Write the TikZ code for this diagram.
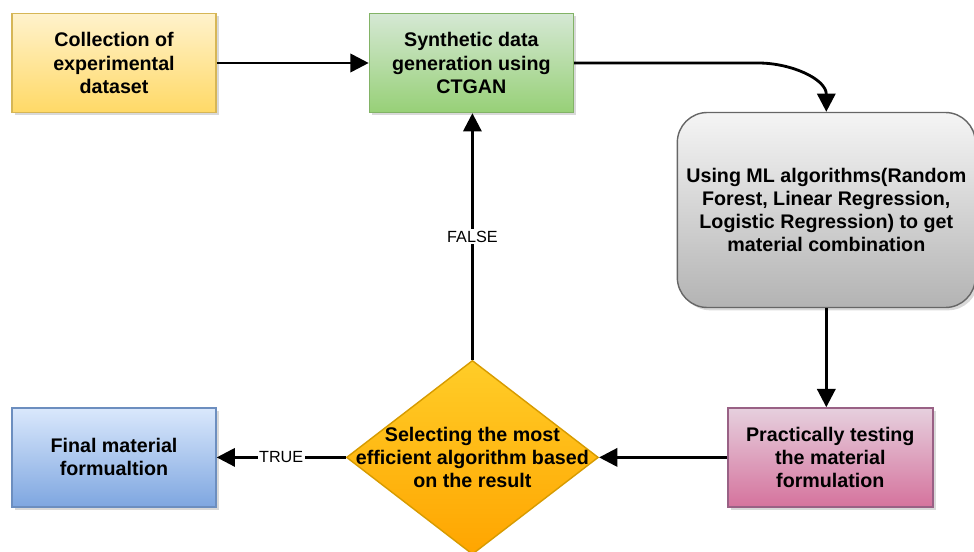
\documentclass[tikz,border=0pt]{standalone}
\usepackage{fontspec}
\setmainfont{Liberation Sans}
\usetikzlibrary{positioning,shapes.geometric,arrows.meta,shadows}
\definecolor{yelTop}{HTML}{FFF2CC}\definecolor{yelBot}{HTML}{FFD966}\definecolor{yelLine}{HTML}{D6B656}
\definecolor{grnTop}{HTML}{D5E8D4}\definecolor{grnBot}{HTML}{97D077}\definecolor{grnLine}{HTML}{82B366}
\definecolor{gryTop}{HTML}{F5F5F5}\definecolor{gryBot}{HTML}{B3B3B3}\definecolor{gryLine}{HTML}{666666}
\definecolor{pnkTop}{HTML}{E6D0DE}\definecolor{pnkBot}{HTML}{D5739D}\definecolor{pnkLine}{HTML}{996185}
\definecolor{bluTop}{HTML}{DAE8FC}\definecolor{bluBot}{HTML}{7EA6E0}\definecolor{bluLine}{HTML}{6C8EBF}
\definecolor{orgTop}{HTML}{FFCD28}\definecolor{orgBot}{HTML}{FFA500}\definecolor{orgLine}{HTML}{D79B00}
\tikzstyle{boxtext}=[align=center,font=\bfseries\fontsize{14}{16.4}\selectfont]
\tikzstyle{stepbox}=[draw,line width=1pt,boxtext,minimum width=5.1cm,minimum height=2.475cm,
  drop shadow={shadow xshift=2pt,shadow yshift=-2pt,opacity=0.3}]
\tikzstyle{decision}=[diamond,draw=orgLine,line width=1pt,minimum width=6.3cm,minimum height=4.85cm,
  inner sep=0pt,top color=orgTop,bottom color=orgBot]
\tikzstyle{flow}=[->,line width=2pt]
\tikzstyle{lbl}=[fill=white,inner sep=1pt,font=\fontsize{11.5}{13}\selectfont]
\newcommand{\flowBox}[4]{\node[#3] (#1) [#4] {#2};}
\newcommand{\flowArrow}[3]{\draw[flow] (#1) -- node[lbl] {#3} (#2);}

\begin{document}
\begin{tikzpicture}[>={Triangle[length=13pt,width=13pt]}]
      \useasboundingbox (0,0) rectangle (24.35,-13.8);
      \flowBox{coll}{Collection of\\experimental\\dataset}{stepbox,draw=yelLine,top color=yelTop,bottom color=yelBot}{at={(2.85,-1.575)}}
      \flowBox{synth}{Synthetic data\\generation using\\CTGAN}{stepbox,draw=grnLine,top color=grnTop,bottom color=grnBot}{right=3.8cm of coll}
      \flowBox{final}{Final material\\formualtion}{stepbox,draw=bluLine,top color=bluTop,bottom color=bluBot}{below=7.35cm of coll}
      \node[decision] (sel) [right=3.225cm of final] {};
      \node[boxtext] (selTxt) at (sel) {Selecting the most\\efficient algorithm based\\on the result};
      \flowBox{test}{Practically testing\\the material\\formulation}{stepbox,minimum width=5.125cm,draw=pnkLine,top color=pnkTop,bottom color=pnkBot}{right=3.2cm of sel}
      \flowBox{ml}{Using ML algorithms(Random\\Forest, Linear Regression,\\Logistic Regression) to get\\material combination}{stepbox,minimum width=7.45cm,minimum height=4.875cm,rounded corners=0.75cm,draw=gryLine,top color=gryTop,bottom color=gryBot}{above=2.475cm of test,xshift=-0.1cm}
      % connectors
      \draw[flow] (coll) -- (synth);
      \draw[flow] (synth.east) -- ([xshift=-1.7cm]ml.north |- synth.east) to[out=0,in=90] (ml.north);
      \draw[flow] (ml.south) -- (ml.south |- test.north);
      \draw[flow] (test) -- (sel);
      \flowArrow{sel}{final}{TRUE}
      \flowArrow{sel.north}{sel.north |- synth.south}{FALSE}
\end{tikzpicture}
\end{document}
